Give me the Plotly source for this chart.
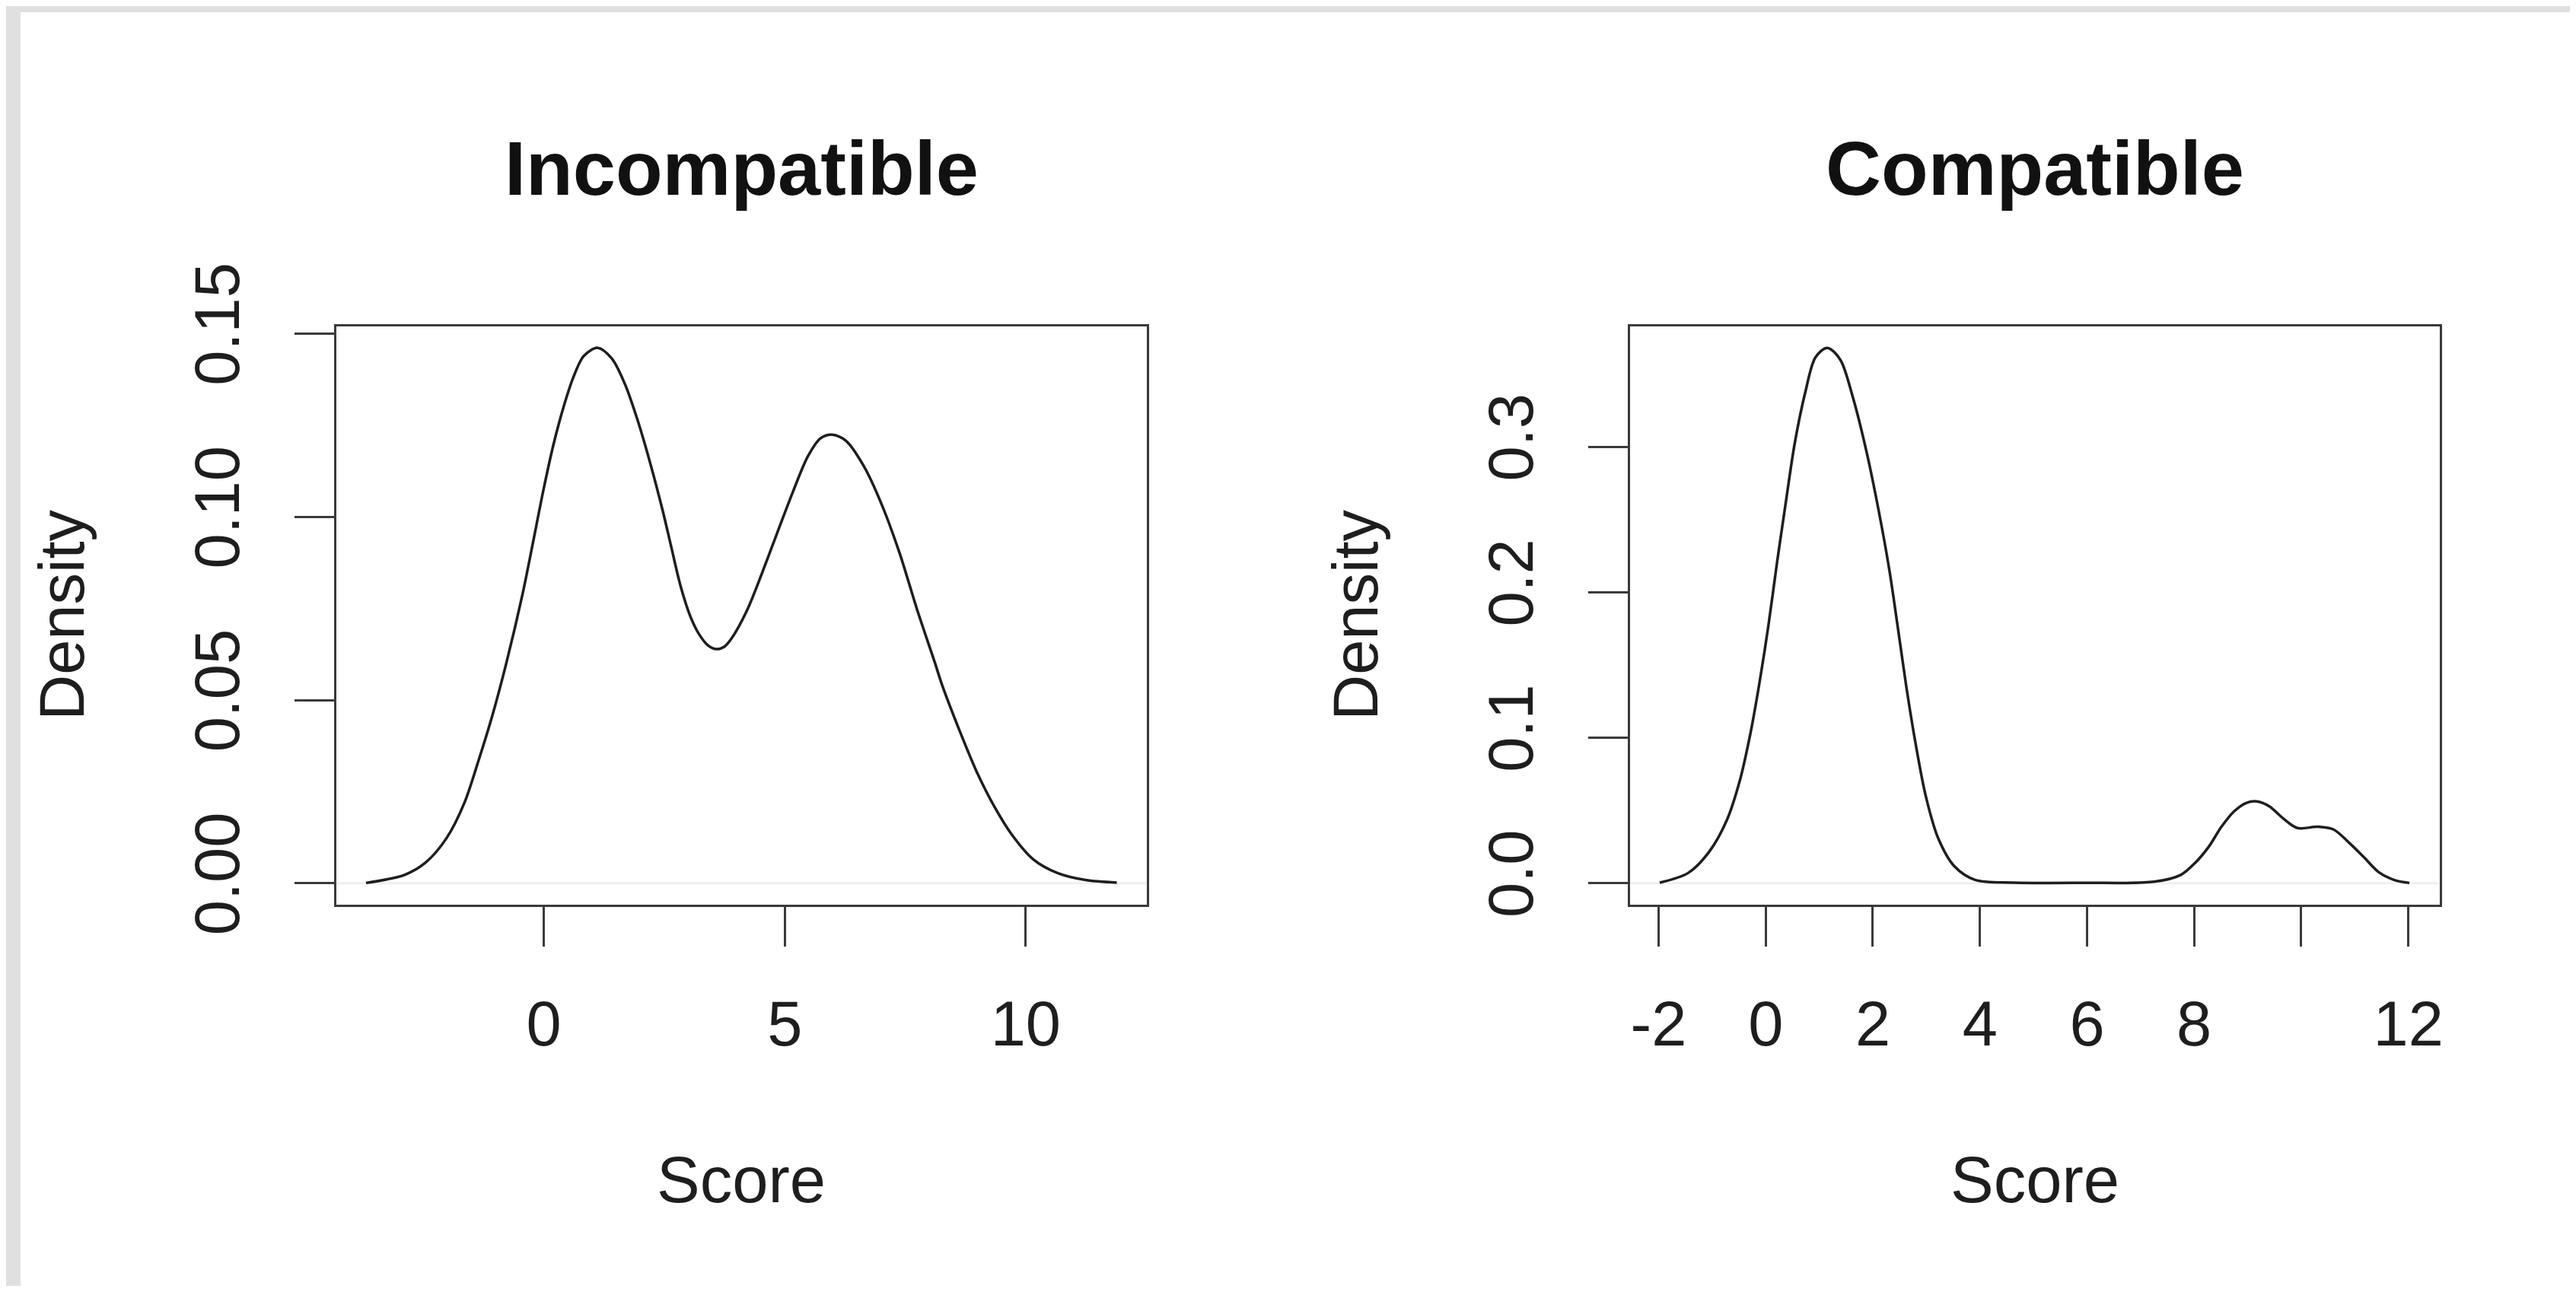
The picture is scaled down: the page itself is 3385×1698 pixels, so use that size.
import plotly.graph_objects as go

# page body has an 8px margin: size the figure so it fits and offset targets by it
OFF = 8
W, H = 3385 - 2 * OFF, 1698 - 2 * OFF

# ---- data (density curves) ----
incompat_x = [-3.69, -2.89, -2.45, -2.02, -1.65, -1.36, -1.07, -0.78, -0.44, -0.22,
              -0.01, 0.20, 0.41, 0.62, 0.83, 1.12, 1.41, 1.68, 1.94, 2.20,
              2.47, 2.64, 2.84, 3.05, 3.22, 3.40, 3.58, 3.75, 3.89, 4.21,
              4.53, 4.84, 5.16, 5.48, 5.74, 5.98, 6.27, 6.64, 7.01, 7.38,
              7.75, 8.12, 8.26, 8.62, 8.98, 9.35, 9.71, 10.15, 10.66, 11.24,
              11.89]
incompat_y = [0.0001, 0.0023, 0.0057, 0.0123, 0.0219, 0.0333, 0.0457, 0.0600, 0.0790, 0.0933,
              0.1072, 0.1197, 0.1300, 0.1383, 0.1439, 0.1461, 0.1432, 0.1363, 0.1266, 0.1150,
              0.1015, 0.0920, 0.0810, 0.0725, 0.0680, 0.0650, 0.0639, 0.0646, 0.0667, 0.0743,
              0.0847, 0.0955, 0.1065, 0.1165, 0.1214, 0.1224, 0.1207, 0.1138, 0.1034, 0.0902,
              0.0745, 0.0600, 0.0543, 0.0419, 0.0305, 0.0209, 0.0133, 0.0066, 0.0028, 0.0009,
              0.0002]

compat_x = [-1.98, -1.45, -1.06, -0.73, -0.48, -0.28, -0.12, 0.05, 0.21, 0.38,
            0.54, 0.74, 0.93, 1.15, 1.39, 1.62, 1.88, 2.11, 2.31, 2.47,
            2.63, 2.80, 2.99, 3.22, 3.52, 3.91, 4.63, 5.94, 7.25, 7.75,
            8.03, 8.27, 8.51, 8.74, 8.98, 9.17, 9.41, 9.65, 9.93, 10.31,
            10.60, 10.88, 11.17, 11.45, 11.74, 12.02]
compat_y = [0.0004, 0.0070, 0.0214, 0.0430, 0.0710, 0.1040, 0.1370, 0.1770, 0.2200, 0.2630,
            0.3020, 0.3376, 0.3615, 0.3680, 0.3600, 0.3350, 0.2970, 0.2560, 0.2150, 0.1750,
            0.1340, 0.0957, 0.0597, 0.0310, 0.0118, 0.0023, 0.0004, 0.0003, 0.0010, 0.0057,
            0.0144, 0.0249, 0.0388, 0.0492, 0.0553, 0.0562, 0.0527, 0.0449, 0.0379, 0.0388,
            0.0370, 0.0283, 0.0179, 0.0075, 0.0022, 0.0002]

titles = ["Incompatible", "Compatible"]
x_label = "Score"
y_label = "Density"

left_xticks = [0, 5, 10]
left_xticklabels = ["0", "5", "10"]
left_yticks = [0.00, 0.05, 0.10, 0.15]
left_yticklabels = ["0.00", "0.05", "0.10", "0.15"]
right_xticks = [-2, 0, 2, 4, 6, 8, 10, 12]
right_xticklabels = ["-2", "0", "2", "4", "6", "8", "", "12"]
right_yticks = [0.0, 0.1, 0.2, 0.3]
right_yticklabels = ["0.0", "0.1", "0.2", "0.3"]

FONT = "Liberation Sans, Arial, Helvetica, sans-serif"
INK = "#1e1e1e"
LBL = 83
TTL = 101


def rng(vals):
    lo, hi = min(vals), max(vals)
    s = hi - lo
    return [lo - 0.04 * s, hi + 0.04 * s]


def px_x(p):
    return (p - OFF) / W


def px_y(p):
    return 1 - (p - OFF) / H


# target pixel layout (screen coordinates)
L_x0, L_x1 = 441.5, 1507
R_x0, R_x1 = 2141.5, 3205.5
Y_top, Y_bot = 429, 1188.5

fig = go.Figure()
fig.add_trace(go.Scatter(x=incompat_x, y=incompat_y, mode="lines",
                         line=dict(color=INK, width=3.5, shape="spline", smoothing=0.9),
                         xaxis="x", yaxis="y", showlegend=False, hoverinfo="skip"))
fig.add_trace(go.Scatter(x=compat_x, y=compat_y, mode="lines",
                         line=dict(color=INK, width=3.5, shape="spline", smoothing=0.9),
                         xaxis="x2", yaxis="y2", showlegend=False, hoverinfo="skip"))

axis_common = dict(showgrid=False, zeroline=False, showline=True, mirror=True,
                   linecolor="#3a3a3a", linewidth=3, ticks="outside", ticklen=52,
                   tickwidth=3, tickcolor="#3a3a3a", automargin=False,
                   tickfont=dict(family=FONT, size=LBL, color=INK))

ydom = [px_y(Y_bot), px_y(Y_top)]

fig.update_layout(
    width=W, height=H,
    margin=dict(l=0, r=0, t=0, b=0, autoexpand=False),
    paper_bgcolor="white", plot_bgcolor="white",
    xaxis=dict(domain=[px_x(L_x0), px_x(L_x1)], range=rng(incompat_x), anchor="y",
               tickmode="array", tickvals=left_xticks, ticktext=left_xticklabels,
               ticklabelstandoff=31, **axis_common),
    yaxis=dict(domain=ydom, range=rng(incompat_y), anchor="x",
               tickmode="array", tickvals=left_yticks, ticktext=left_yticklabels,
               tickangle=-90, ticklabelstandoff=39, **axis_common),
    xaxis2=dict(domain=[px_x(R_x0), px_x(R_x1)], range=rng(compat_x), anchor="y2",
                tickmode="array", tickvals=right_xticks, ticktext=right_xticklabels,
                ticklabelstandoff=31, **axis_common),
    yaxis2=dict(domain=ydom, range=rng(compat_y), anchor="x2",
                tickmode="array", tickvals=right_yticks, ticktext=right_yticklabels,
                tickangle=-90, ticklabelstandoff=39, **axis_common),
)

shapes = [
    # light gray frame strips (left, top)
    dict(type="rect", xref="paper", yref="paper", x0=0, x1=px_x(27), y0=0, y1=1,
         fillcolor="#e0e0e0", line=dict(width=0), layer="above"),
    dict(type="rect", xref="paper", yref="paper", x0=0, x1=1, y0=px_y(16), y1=1,
         fillcolor="#e0e0e0", line=dict(width=0), layer="above"),
    # faint zero lines
    dict(type="line", xref="x domain", yref="y", x0=0, x1=1, y0=0, y1=0,
         line=dict(color="#efefef", width=3), layer="below"),
    dict(type="line", xref="x2 domain", yref="y2", x0=0, x1=1, y0=0, y1=0,
         line=dict(color="#efefef", width=3), layer="below"),
]
fig.update_layout(shapes=shapes)

annos = []
for cx, t in zip([(L_x0 + L_x1) / 2, (R_x0 + R_x1) / 2], titles):
    annos.append(dict(text="<b>%s</b>" % t, x=px_x(cx), y=px_y(221), xref="paper", yref="paper",
                      xanchor="center", yanchor="middle", showarrow=False,
                      font=dict(family=FONT, size=TTL, color="#111111")))
    annos.append(dict(text=x_label, x=px_x(cx), y=px_y(1550), xref="paper", yref="paper",
                      xanchor="center", yanchor="middle", showarrow=False,
                      font=dict(family=FONT, size=85, color=INK)))
for dx in [82, 1782]:
    annos.append(dict(text=y_label, x=px_x(dx), y=px_y((Y_top + Y_bot) / 2),
                      xref="paper", yref="paper", xanchor="center", yanchor="middle",
                      textangle=-90, showarrow=False,
                      font=dict(family=FONT, size=LBL, color=INK)))
fig.update_layout(annotations=annos)

fig.write_html("out.html")
